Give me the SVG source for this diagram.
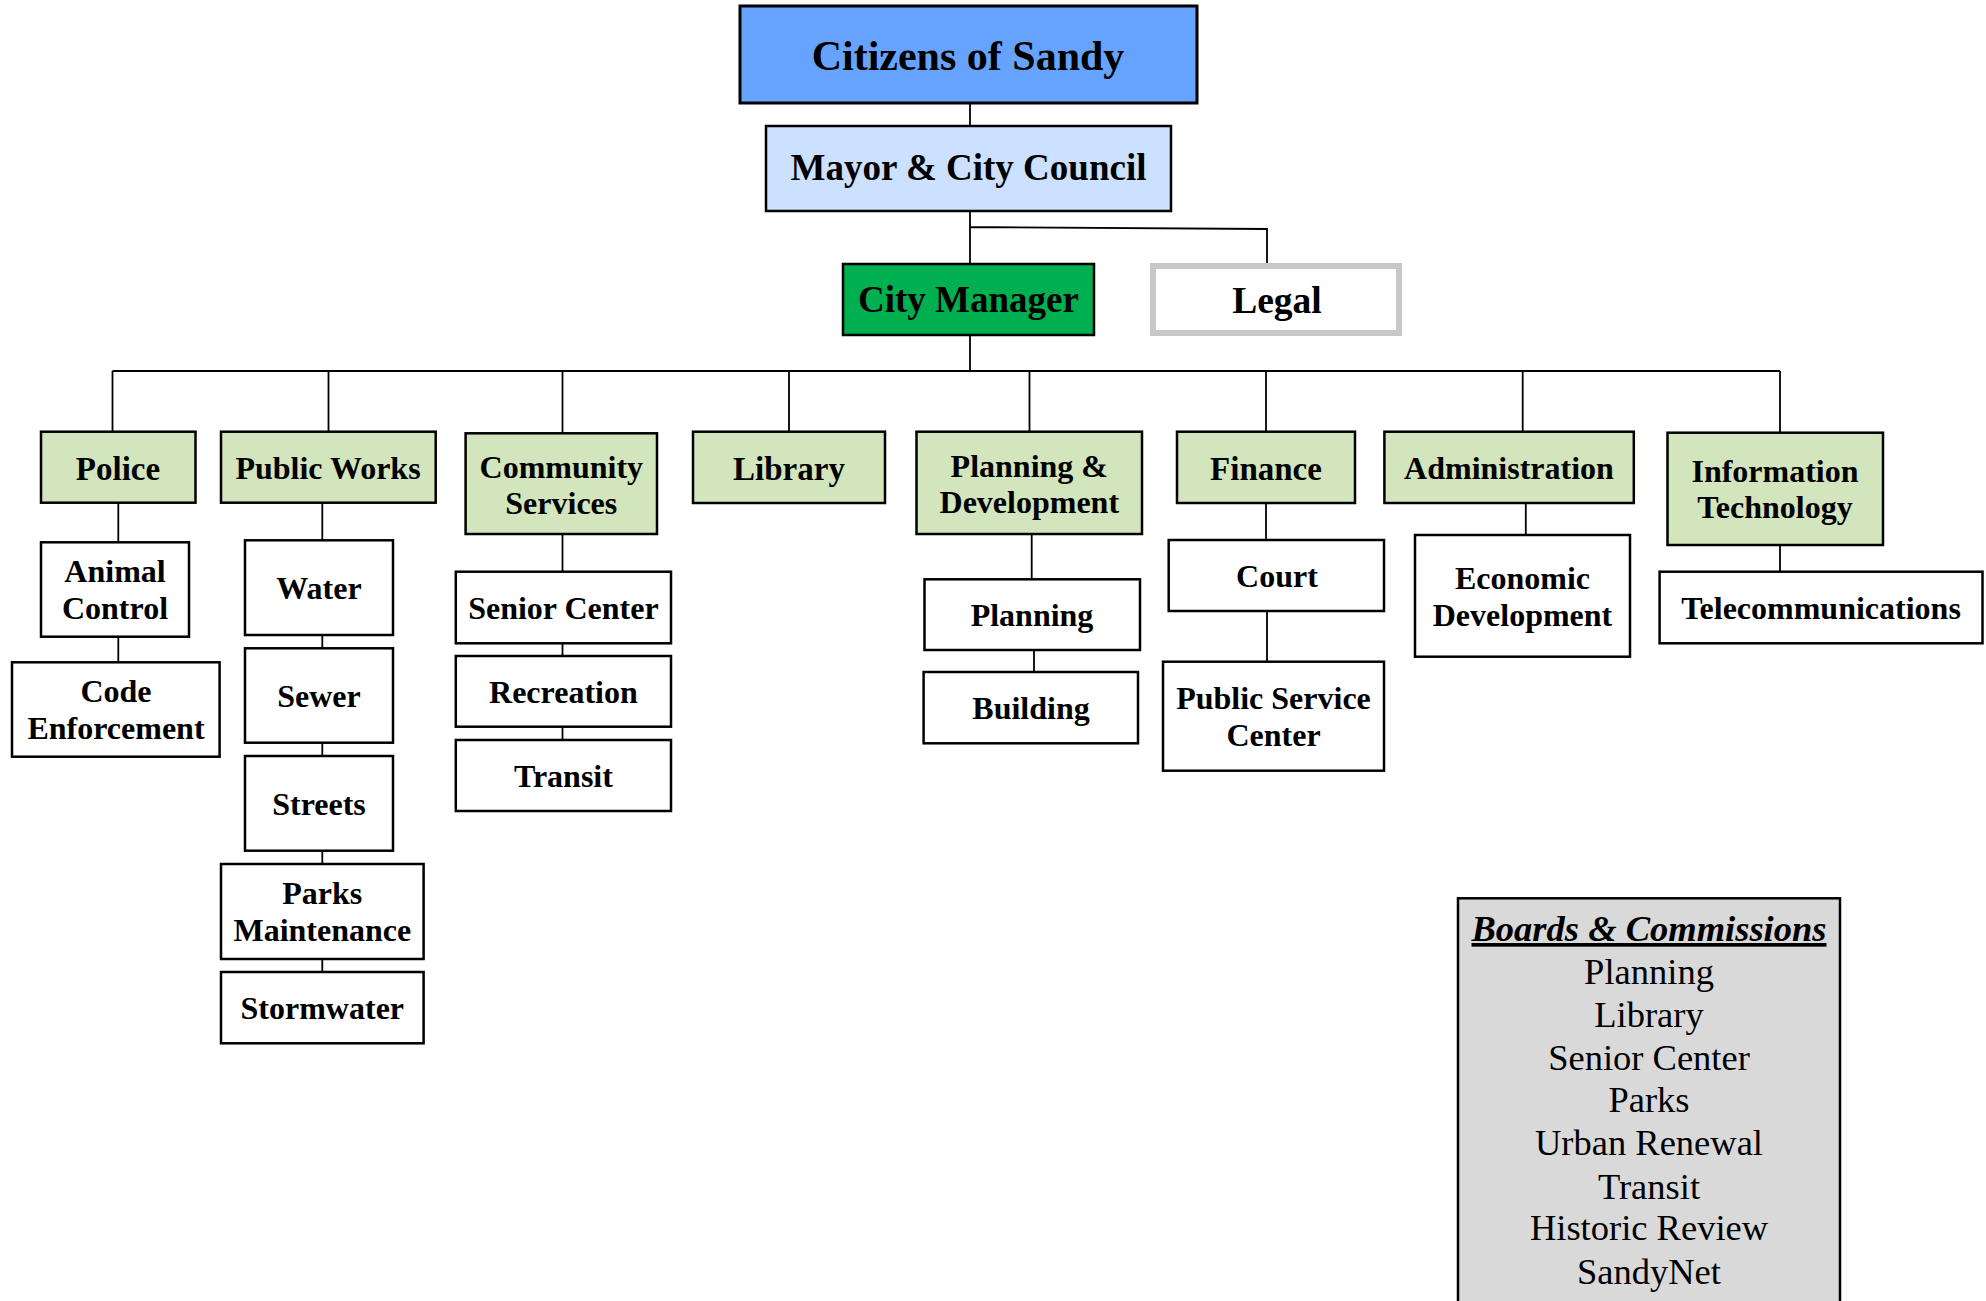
<svg xmlns="http://www.w3.org/2000/svg" width="1986" height="1301" viewBox="0 0 1986 1301">
<style>
.box{stroke:#000;stroke-width:2.5}
.dept{fill:#D3E5BD}
.sub{fill:#fff}
.t{font-family:"Liberation Serif","Times New Roman",serif;font-weight:bold;text-anchor:middle;fill:#000}
.d{font-size:32px}
.d3{font-size:33px}
.c{fill:none;stroke:#000;stroke-width:1.8}
.b{font-family:"Liberation Serif","Times New Roman",serif;font-size:36.5px;text-anchor:middle;fill:#000}
</style>
<rect width="1986" height="1301" fill="#fff"/>
<g id="connectors" class="c">
<path d="M970 103V126M970 211V264M970 227L1267 229V263M970 335V371"/>
<path d="M112.5 371H1780"/>
<path d="M112.5 371V431.7M328.5 371V431.7M562.5 371V433.3M789 371V431.7M1029.5 371V431.7M1266 371V431.7M1522.7 371V431.7M1780 371V432.7"/>
<path d="M118.3 502.7V542.3M118.3 636.7V662.3"/>
<path d="M322.3 502.7V540.3M322.3 635V648.3M322.3 742.7V756M322.3 850.7V864M322.3 959V972"/>
<path d="M562.5 534V571.7M562.5 643.3V656M562.5 726.7V740"/>
<path d="M1031.7 534V579.3M1034 650V672"/>
<path d="M1266 503V540M1267 611V661.7"/>
<path d="M1525.8 503V535"/>
<path d="M1780 545V571.7"/>
</g>
<g id="citizens">
<rect x="740" y="6" width="457" height="97" fill="#66A3FF" stroke="#000" stroke-width="3"/>
<text class="t" x="968" y="70" font-size="42">Citizens of Sandy</text>
</g>
<g id="mayor">
<rect x="766" y="126" width="405" height="85" fill="#CCE0FF" class="box"/>
<text class="t" x="968.5" y="180" font-size="37">Mayor &amp; City Council</text>
</g>
<g id="city-manager">
<rect x="843" y="264" width="251" height="71" fill="#00B050" class="box"/>
<text class="t" x="968.5" y="312" font-size="37">City Manager</text>
</g>
<g id="legal">
<rect x="1153" y="266" width="246" height="67" fill="#fff" stroke="#C8C8C8" stroke-width="6"/>
<text class="t" x="1277" y="313" font-size="37.5">Legal</text>
</g>
<g id="police">
<rect x="41" y="431.7" width="154.5" height="71" class="box dept"/>
<text class="t d3" x="118" y="480">Police</text>
</g>
<g id="public-works">
<rect x="221" y="431.7" width="214.7" height="71" class="box dept"/>
<text class="t d" x="328" y="479">Public Works</text>
</g>
<g id="community-services">
<rect x="465.6" y="433.3" width="191.4" height="100.7" class="box dept"/>
<text class="t d" x="561.3" y="478">Community</text>
<text class="t d" x="561.3" y="514">Services</text>
</g>
<g id="library">
<rect x="693" y="431.7" width="192" height="71.3" class="box dept"/>
<text class="t d3" x="789" y="480">Library</text>
</g>
<g id="planning-development">
<rect x="916.5" y="431.7" width="225.5" height="102.3" class="box dept"/>
<text class="t d" x="1029.3" y="476.5">Planning &amp;</text>
<text class="t d" x="1029.3" y="513">Development</text>
</g>
<g id="finance">
<rect x="1177" y="431.7" width="178" height="71.3" class="box dept"/>
<text class="t d3" x="1266" y="480">Finance</text>
</g>
<g id="administration">
<rect x="1384.4" y="431.7" width="249.4" height="71.3" class="box dept"/>
<text class="t d" x="1509" y="478.5">Administration</text>
</g>
<g id="information-technology">
<rect x="1667.5" y="432.7" width="215.5" height="112.3" class="box dept"/>
<text class="t d" x="1775" y="481.5">Information</text>
<text class="t d" x="1775" y="517.5">Technology</text>
</g>
<g id="animal-control">
<rect x="41" y="542.3" width="148" height="94.4" class="box sub"/>
<text class="t d" x="115" y="581.5">Animal</text>
<text class="t d" x="115" y="619">Control</text>
</g>
<g id="code-enforcement">
<rect x="12" y="662.3" width="207.6" height="94.4" class="box sub"/>
<text class="t d" x="116" y="702">Code</text>
<text class="t d" x="116" y="738.5">Enforcement</text>
</g>
<g id="water">
<rect x="245" y="540.3" width="148" height="94.7" class="box sub"/>
<text class="t d" x="319" y="598.8">Water</text>
</g>
<g id="sewer">
<rect x="245" y="648.3" width="148" height="94.4" class="box sub"/>
<text class="t d" x="319" y="707">Sewer</text>
</g>
<g id="streets">
<rect x="245" y="756" width="148" height="94.7" class="box sub"/>
<text class="t d" x="319" y="814.5">Streets</text>
</g>
<g id="parks-maintenance">
<rect x="221" y="864" width="202.6" height="95" class="box sub"/>
<text class="t d" x="322.3" y="903.8">Parks</text>
<text class="t d" x="322.3" y="941">Maintenance</text>
</g>
<g id="stormwater">
<rect x="221" y="972" width="202.6" height="71.3" class="box sub"/>
<text class="t d" x="322.3" y="1018.8">Stormwater</text>
</g>
<g id="senior-center">
<rect x="455.8" y="571.7" width="215.2" height="71.6" class="box sub"/>
<text class="t d" x="563.4" y="618.8">Senior Center</text>
</g>
<g id="recreation">
<rect x="455.8" y="656" width="215.2" height="70.7" class="box sub"/>
<text class="t d" x="563.4" y="702.8">Recreation</text>
</g>
<g id="transit">
<rect x="455.8" y="740" width="215.2" height="71" class="box sub"/>
<text class="t d" x="563.4" y="787">Transit</text>
</g>
<g id="planning">
<rect x="924.5" y="579.3" width="215.5" height="70.7" class="box sub"/>
<text class="t d" x="1032" y="625.5">Planning</text>
</g>
<g id="building">
<rect x="923.6" y="672" width="214.4" height="71.3" class="box sub"/>
<text class="t d" x="1031" y="718.8">Building</text>
</g>
<g id="court">
<rect x="1168.7" y="540" width="215.3" height="71" class="box sub"/>
<text class="t d" x="1277" y="587">Court</text>
</g>
<g id="public-service-center">
<rect x="1163" y="661.7" width="221" height="109" class="box sub"/>
<text class="t d" x="1273.5" y="708.8">Public Service</text>
<text class="t d" x="1273.5" y="745.5">Center</text>
</g>
<g id="economic-development">
<rect x="1415" y="535" width="215" height="121.7" class="box sub"/>
<text class="t d" x="1522.5" y="588.8">Economic</text>
<text class="t d" x="1522.5" y="626">Development</text>
</g>
<g id="telecommunications">
<rect x="1659.6" y="571.7" width="322.9" height="71.6" class="box sub"/>
<text class="t d" x="1821" y="618.8">Telecommunications</text>
</g>
<g id="boards-commissions">
<rect x="1458" y="898.3" width="382" height="420" fill="#D9D9D9" class="box"/>
<text class="b" x="1649" y="941" font-weight="bold" font-style="italic" text-decoration="underline">Boards &amp; Commissions</text>
<text class="b" x="1649" y="983.5">Planning</text>
<text class="b" x="1649" y="1027">Library</text>
<text class="b" x="1649" y="1070.3">Senior Center</text>
<text class="b" x="1649" y="1112">Parks</text>
<text class="b" x="1649" y="1155.3">Urban Renewal</text>
<text class="b" x="1649" y="1198.6">Transit</text>
<text class="b" x="1649" y="1240.3">Historic Review</text>
<text class="b" x="1649" y="1283.6">SandyNet</text>
</g>
</svg>
